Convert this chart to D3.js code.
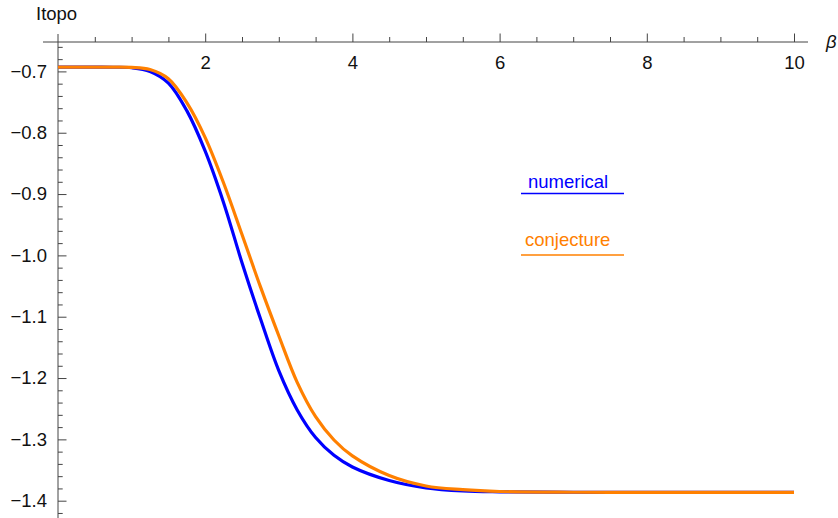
<!DOCTYPE html>
<html>
<head>
<meta charset="utf-8">
<script src="https://cdn.jsdelivr.net/npm/d3@7"></script>
<style>
  body { margin: 0; background: #fff; }
  svg { display: block; font-family: "Liberation Sans", Arial, sans-serif; }
</style>
</head>
<body>
<svg id="chart" width="838" height="518"></svg>
<script>
// beta values and the two curves
const betaValues = [0, 0.5, 0.75, 1.0, 1.25, 1.5, 1.75, 2.0, 2.25, 2.5, 2.75, 3.0, 3.25, 3.5, 3.75, 4.0, 4.5, 5.0, 5.5, 6.0, 7.0, 8.0, 9.0, 10.0];
const numericalValues = [-0.6931, -0.6931, -0.6932, -0.6940, -0.700, -0.719, -0.764, -0.830, -0.914, -1.012, -1.103, -1.188, -1.252, -1.297, -1.326, -1.345, -1.367, -1.379, -1.384, -1.3855, -1.3862, -1.3863, -1.3863, -1.3863];
const conjectureValues = [-0.6931, -0.6931, -0.6931, -0.6935, -0.697, -0.712, -0.751, -0.808, -0.882, -0.966, -1.051, -1.131, -1.207, -1.263, -1.301, -1.327, -1.359, -1.376, -1.382, -1.385, -1.3862, -1.3863, -1.3863, -1.3863];

const xMajorTicks = [2, 4, 6, 8, 10];
const yMajorTicks = [-0.7, -0.8, -0.9, -1.0, -1.1, -1.2, -1.3, -1.4];
const seriesNames = ["numerical", "conjecture"];

const svg = d3.select("#chart");
const axisColor = "#444";
const blue = "#0000ff";
const orange = "#ff8000";
const fontSize = "18.5px";

// scales
const x = d3.scaleLinear().domain([0, 10]).range([58, 794]);
const y = d3.scaleLinear().domain([-0.7, -1.4]).range([71.4, 500.7]);

const xAxisY = 42;
const yAxisX = x(0);

// minor ticks (every 0.5 on x, every 0.02 on y)
const xMinor = d3.range(1, 21).map(i => i * 0.5).filter(v => v % 2 !== 0);
const yMinor = d3.range(33, 72).map(i => -i * 0.02).filter(v => Math.abs(Math.round(v * 10) - v * 10) > 1e-6);

// x axis
svg.append("line")
  .attr("x1", 43).attr("x2", 808)
  .attr("y1", xAxisY).attr("y2", xAxisY)
  .attr("stroke", axisColor);

svg.append("g")
  .attr("class", "x-minor")
  .attr("transform", `translate(0,${xAxisY})`)
  .call(d3.axisBottom(x).tickValues(xMinor).tickSize(-5).tickFormat(""));

const gx = svg.append("g")
  .attr("class", "x-major")
  .attr("transform", `translate(0,${xAxisY})`)
  .call(d3.axisBottom(x).tickValues(xMajorTicks).tickSize(-8.5).tickPadding(14).tickFormat(d3.format("d")));
gx.selectAll("text").attr("fill", "#111").style("font-size", fontSize).attr("dy", "0.71em");

// y axis
svg.append("line")
  .attr("x1", yAxisX).attr("x2", yAxisX)
  .attr("y1", 34).attr("y2", 518)
  .attr("stroke", axisColor);

svg.append("g")
  .attr("class", "y-minor")
  .attr("transform", `translate(${yAxisX},0)`)
  .call(d3.axisLeft(y).tickValues(yMinor).tickSize(-4.7).tickFormat(""));

const gy = svg.append("g")
  .attr("class", "y-major")
  .attr("transform", `translate(${yAxisX},0)`)
  .call(d3.axisLeft(y).tickValues(yMajorTicks).tickSize(-8.5).tickPadding(11)
    .tickFormat(d => "\u2212" + d3.format(".1f")(Math.abs(d))));
gy.selectAll("text").attr("fill", "#111").style("font-size", fontSize);

svg.selectAll(".domain").remove();
svg.selectAll(".tick line").attr("stroke", axisColor);

// axis labels
svg.append("text")
  .attr("x", 36).attr("y", 20)
  .style("font-size", fontSize)
  .attr("fill", "#111")
  .text("Itopo");

svg.append("text")
  .attr("x", 826).attr("y", 48)
  .style("font-size", fontSize)
  .style("font-style", "italic")
  .attr("fill", "#111")
  .text("β");

// curves
const line = d3.line()
  .x(d => x(d[0]))
  .y(d => y(d[1]))
  .curve(d3.curveCatmullRom.alpha(0.5));

const series = [
  { name: seriesNames[0], values: numericalValues, color: blue },
  { name: seriesNames[1], values: conjectureValues, color: orange }
];

series.forEach(s => {
  svg.append("path")
    .datum(betaValues.map((b, i) => [b, s.values[i]]))
    .attr("d", line)
    .attr("fill", "none")
    .attr("stroke", s.color)
    .attr("stroke-width", 3.2)
    .attr("stroke-linejoin", "round");
});

// legend (text with underline)
const legend = [
  { name: seriesNames[0], color: blue, textX: 528, textY: 188, lineY: 193.5 },
  { name: seriesNames[1], color: orange, textX: 525, textY: 246, lineY: 255 }
];
legend.forEach(l => {
  svg.append("text")
    .attr("x", l.textX).attr("y", l.textY)
    .style("font-size", fontSize)
    .attr("fill", l.color)
    .text(l.name);
  svg.append("line")
    .attr("x1", 521).attr("x2", 624)
    .attr("y1", l.lineY).attr("y2", l.lineY)
    .attr("stroke", l.color)
    .attr("stroke-width", 1.3);
});
</script>
</body>
</html>
